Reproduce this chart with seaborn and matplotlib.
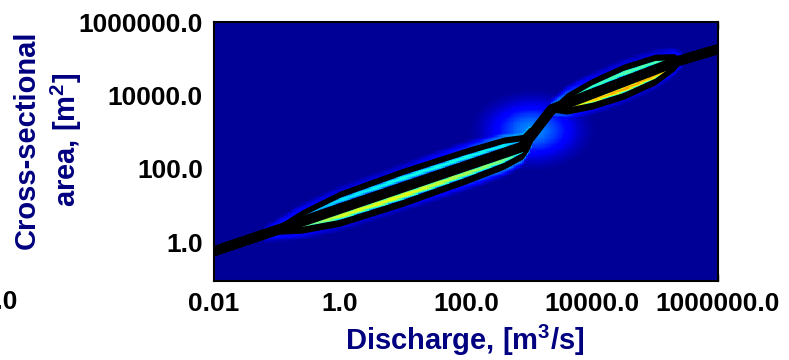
import numpy as np
import matplotlib
matplotlib.use("Agg")
import matplotlib.pyplot as plt
import seaborn as sns

# ---------------- data (log10 units) ----------------
# central rating curve (black line)
curve_logQ = [-2.0, 2.9, 3.36, 5.3, 6.0]
curve_logA = [-0.25, 2.6, 3.62, 4.9, 5.26]

# lower lens (low-flow regime): half width, ridge intensities, halo
lo_u = [-1.2, -0.6, 0.0, 1.0, 2.0, 2.6, 3.0, 3.15]
lo_h = [0.0, 0.30, 0.46, 0.50, 0.47, 0.42, 0.28, 0.0]
lo_cyan = [0.10, 0.26, 0.33, 0.36, 0.36, 0.34, 0.22, 0.05]
lo_yellow = [0.10, 0.42, 0.60, 0.62, 0.54, 0.48, 0.30, 0.05]
lo_halo = [0.18, 0.12, 0.08, 0.08, 0.16, 0.26, 0.30, 0.30]

# upper lens (high-flow regime)
up_u = [3.3, 3.6, 4.0, 4.5, 5.0, 5.3, 5.45]
up_h = [0.0, 0.27, 0.40, 0.46, 0.40, 0.22, 0.0]
up_cyan = [0.10, 0.36, 0.40, 0.44, 0.42, 0.36, 0.10]
up_yellow = [0.20, 0.56, 0.68, 0.73, 0.70, 0.60, 0.20]
up_halo = [0.30, 0.20, 0.10, 0.08, 0.08, 0.12, 0.15]

# transition glow
glow_center = (3.05, 3.05)
glow_sigma = (0.45, 0.50)
glow_amp = 0.26
background = 0.02

x_ticks = [0.01, 1.0, 100.0, 10000.0, 1000000.0]
x_ticklabels = ["0.01", "1.0", "100.0", "10000.0", "1000000.0"]
y_ticks = [1.0, 100.0, 10000.0, 1000000.0]
y_ticklabels = ["1.0", "100.0", "10000.0", "1000000.0"]
x_lim = (0.01, 1e6)
y_lim = (10 ** -1.06, 1e6)

# ---------------- build density grid ----------------
nu, nv = 260, 210
u_edges = np.linspace(-2, 6, nu + 1)
v_edges = np.linspace(-1.06, 6, nv + 1)
uc = 0.5 * (u_edges[:-1] + u_edges[1:])
vc_ = 0.5 * (v_edges[:-1] + v_edges[1:])
U, V = np.meshgrid(uc, vc_)


def curve_v(u):
    return np.interp(u, curve_logQ, curve_logA)


Z = np.full(U.shape, background)
lens_sets = [
    (lo_u, lo_h, lo_cyan, lo_yellow, lo_halo),
    (up_u, up_h, up_cyan, up_yellow, up_halo),
]
glow = glow_amp * np.exp(-0.5 * (((U - glow_center[0]) / glow_sigma[0]) ** 2
                                 + ((V - glow_center[1]) / glow_sigma[1]) ** 2))
Z = np.maximum(Z, glow)

for lu, lh, lcy, lye, lha in lens_sets:
    inside = (U >= lu[0]) & (U <= lu[-1])
    h = np.interp(U, lu, lh)
    cy = np.interp(U, lu, lcy)
    ye = np.interp(U, lu, lye)
    ha = np.interp(U, lu, lha)
    c = curve_v(U)
    sig = 0.025 + 0.06 * h / 0.5
    ridge_up = cy * np.exp(-0.5 * ((V - (c + 0.5 * h)) / sig) ** 2)
    ridge_lo = ye * np.exp(-0.5 * ((V - (c - 0.45 * h)) / sig) ** 2)
    dist_out = np.abs(V - c) - h
    halo = ha * np.exp(-0.5 * (np.clip(dist_out, 0, None) / 0.12) ** 2) * (dist_out > -0.05)
    Z = np.where(inside, np.maximum(Z, np.maximum(ridge_up + background, ridge_lo + background)), Z)
    Z = np.where(inside, np.maximum(Z, halo), Z)

# ---------------- plot ----------------
sns.set_style("ticks")
plt.rcParams["font.family"] = ["Liberation Sans", "DejaVu Sans"]
plt.rcParams["font.weight"] = "bold"
plt.rcParams["mathtext.fontset"] = "custom"
plt.rcParams["mathtext.rm"] = "Liberation Sans:bold"
plt.rcParams["mathtext.default"] = "rm"

fig = plt.figure(figsize=(7.89, 3.60), dpi=100)
ax = fig.add_axes([214 / 789, 1 - 281 / 360, (718 - 214) / 789, (281 - 22) / 360])
ax.pcolormesh(10 ** u_edges, 10 ** v_edges, Z, cmap="jet", vmin=0, vmax=1,
              shading="flat", rasterized=True)
ax.set_xscale("log")
ax.set_yscale("log")

# black lens edges
for lu, lh, *_ in lens_sets:
    uu = np.linspace(lu[0], lu[-1], 200)
    hh = np.interp(uu, lu, lh)
    cc = curve_v(uu)
    ax.fill_between(10 ** uu, 10 ** (cc + np.maximum(hh - 0.15, 0)), 10 ** (cc + hh + 0.02),
                    color="black", lw=0)
    ax.fill_between(10 ** uu, 10 ** (cc - hh - 0.02), 10 ** (cc - np.maximum(hh - 0.17, 0)),
                    color="black", lw=0)

cu = np.linspace(curve_logQ[0], curve_logQ[-1], 400)
sns.lineplot(x=10 ** cu, y=10 ** curve_v(cu), color="black", linewidth=7.5, ax=ax,
             solid_capstyle="round")

ax.set_xlim(*x_lim)
ax.set_ylim(*y_lim)
ax.set_xticks([10.0 ** k for k in range(-2, 7)])
ax.set_xticklabels([x_ticklabels[x_ticks.index(10.0 ** k)] if (k % 2 == 0) else ""
                    for k in range(-2, 7)])
ax.set_yticks([10.0 ** k for k in range(0, 7)])
ax.set_yticklabels([y_ticklabels[y_ticks.index(10.0 ** k)] if (k % 2 == 0) else ""
                    for k in range(0, 7)])
ax.minorticks_off()
ax.tick_params(direction="in", length=5, width=1.0, top=True, right=True,
               labelsize=19, colors="black", pad=8)
for lab in ax.get_xticklabels() + ax.get_yticklabels():
    lab.set_fontweight("bold")
for sp in ax.spines.values():
    sp.set_color("black")
    sp.set_linewidth(1.5)

navy = "#000080"
fig.text(465 / 789, 1 - 340 / 360, "Discharge, [m$^3$/s]", ha="center", va="center",
         fontsize=21, fontweight="bold", color=navy)
fig.text(48 / 789, 1 - 140 / 360, "Cross-sectional\narea, [m$^2$]", ha="center", va="center",
         rotation=90, fontsize=21, fontweight="bold", color=navy, linespacing=1.3,
         multialignment="center")
# clipped tick label of a neighbouring panel (cut off at the left edge, as in the reference)
fig.text(18 / 789, 1 - 302 / 360, "1000000.0", ha="right", va="center",
         fontsize=19, fontweight="bold", color="black")

fig.savefig("out.png", dpi=100)
